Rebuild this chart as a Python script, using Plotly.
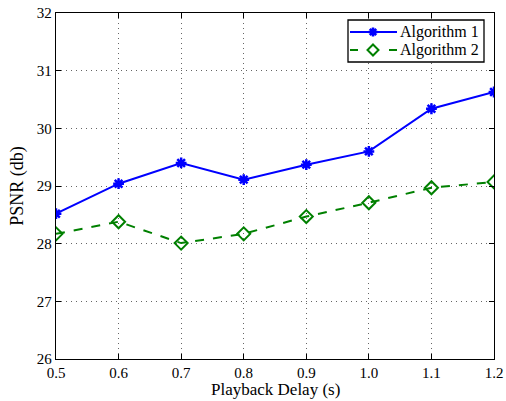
import plotly.graph_objects as go

delay = [0.5, 0.6, 0.7, 0.8, 0.9, 1.0, 1.1, 1.2]
alg1 = [28.52, 29.04, 29.40, 29.11, 29.37, 29.60, 30.34, 30.63]
alg2 = [28.17, 28.38, 28.01, 28.17, 28.47, 28.71, 28.97, 29.07]
xtick_vals = [0.5, 0.6, 0.7, 0.8, 0.9, 1.0, 1.1, 1.2]
xtick_text = ["0.5", "0.6", "0.7", "0.8", "0.9", "1.0", "1.1", "1.2"]
series_names = ["Algorithm 1", "Algorithm 2"]
x_title = "Playback Delay (s)"
y_title = "PSNR (db)"

font = "Liberation Serif, Times New Roman, Times, serif"
BLUE = "#0000ff"
GREEN = "#008000"

fig = go.Figure()
fig.add_trace(go.Scatter(
    x=delay, y=alg1, name=series_names[0], mode="lines+markers",
    line=dict(color=BLUE, width=2),
    marker=dict(symbol="asterisk-open", size=9, color=BLUE,
                line=dict(color=BLUE, width=2.5)),
    showlegend=False,
))
fig.add_trace(go.Scatter(
    x=delay, y=alg2, name=series_names[1], mode="lines+markers",
    line=dict(color=GREEN, width=2, dash="dash"),
    marker=dict(symbol="diamond-open", size=10, color=GREEN,
                line=dict(color=GREEN, width=2)),
    showlegend=False,
))

# --- custom legend, laid out in a pixel-like overlay axis system ---
L_X0, L_X1, L_Y0, L_Y1 = 348, 484, 20, 62
ROWS = [32, 50]
SYM_X0, SYM_X1, SYM_XC = 350, 397, 373
TEXT_X = 399
R_AST = 4.5
R_DIA = 5.5


def asterisk_path(cx, cy, r):
    d = r * 0.7071
    return (f"M {cx - r} {cy} L {cx + r} {cy} "
            f"M {cx} {cy - r} L {cx} {cy + r} "
            f"M {cx - d} {cy - d} L {cx + d} {cy + d} "
            f"M {cx - d} {cy + d} L {cx + d} {cy - d}")


def diamond_path(cx, cy, r):
    return f"M {cx} {cy - r} L {cx + r} {cy} L {cx} {cy + r} L {cx - r} {cy} Z"


shapes = [
    dict(type="rect", xref="x2", yref="y2", x0=L_X0, x1=L_X1, y0=L_Y0, y1=L_Y1,
         fillcolor="white", line=dict(color="black", width=1.3), layer="above"),
    dict(type="line", xref="x2", yref="y2", x0=SYM_X0, x1=SYM_X1, y0=ROWS[0], y1=ROWS[0],
         line=dict(color=BLUE, width=2), layer="above"),
    dict(type="path", xref="x2", yref="y2", path=asterisk_path(SYM_XC, ROWS[0], R_AST),
         line=dict(color=BLUE, width=2.5), layer="above"),
    dict(type="line", xref="x2", yref="y2", x0=SYM_X0, x1=SYM_X0 + 8, y0=ROWS[1], y1=ROWS[1],
         line=dict(color=GREEN, width=2), layer="above"),
    dict(type="line", xref="x2", yref="y2", x0=SYM_X1 - 8, x1=SYM_X1, y0=ROWS[1], y1=ROWS[1],
         line=dict(color=GREEN, width=2), layer="above"),
    dict(type="path", xref="x2", yref="y2", path=diamond_path(SYM_XC, ROWS[1], R_DIA),
         fillcolor="white", line=dict(color=GREEN, width=2), layer="above"),
]
annotations = [
    dict(xref="x2", yref="y2", x=TEXT_X, y=r, text=name, showarrow=False,
         xanchor="left", yanchor="middle", borderpad=0,
         font=dict(family=font, size=16, color="black"))
    for r, name in zip(ROWS, series_names)
]
annotations.append(dict(
    xref="paper", yref="paper", x=0.5, y=0, yshift=-20, text=x_title,
    showarrow=False, xanchor="center", yanchor="top", borderpad=0,
    font=dict(family=font, size=17, color="black"),
))

axis_common = dict(
    showline=True, linecolor="black", linewidth=1.3, mirror="ticks",
    ticks="inside", ticklen=5, tickcolor="black",
    showgrid=True, gridcolor="#666666", griddash="1px,4px", gridwidth=1,
    zeroline=False, automargin=False,
    tickfont=dict(family=font, size=15, color="black"),
)

fig.update_layout(
    width=506, height=401,
    margin=dict(l=56, r=12, t=13, b=42),
    paper_bgcolor="white", plot_bgcolor="white",
    font=dict(family=font, color="black"),
    xaxis=dict(range=[0.5, 1.2], tickvals=xtick_vals, ticktext=xtick_text,
               **axis_common),
    yaxis=dict(range=[26, 32], dtick=1,
               title=dict(text=y_title, font=dict(family=font, size=18), standoff=8),
               **axis_common),
    xaxis2=dict(overlaying="x", range=[56, 494], visible=False, fixedrange=True),
    yaxis2=dict(overlaying="y", range=[359, 13], visible=False, fixedrange=True),
    shapes=shapes,
    annotations=annotations,
    showlegend=False,
)

fig.write_html("out.html")
